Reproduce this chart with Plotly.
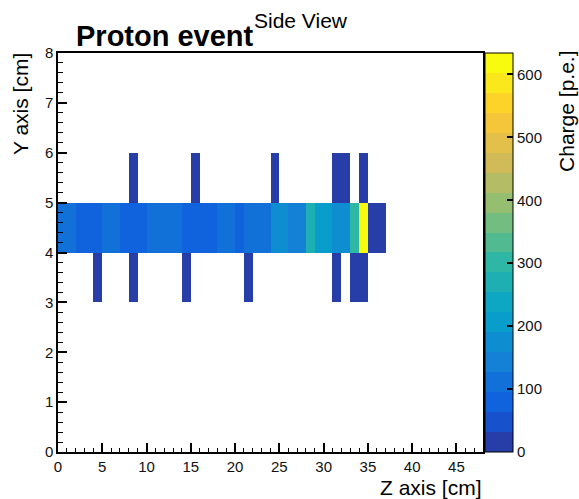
import plotly.graph_objects as go

# ---------------- data ----------------
z_range = [0, 48]          # Z axis [cm]
y_range = [0, 8]           # Y axis [cm]
bin_width = 1.0

band_row = 4               # Y bin index (4-5 cm)
band_bins = list(range(37))
band_charge = [105, 100, 90, 85, 92, 100, 108, 88, 90, 86,
               110, 115, 105, 125, 92, 88, 90, 85, 118, 120,
               90, 112, 118, 110, 165, 160, 140, 135, 265, 200,
               195, 185, 190, 300, 634, 20, 25]

upper_row = 5
upper_bins = [8, 15, 24, 31, 32, 34]
upper_charge = [15, 12, 18, 20, 14, 22]

lower_row = 3
lower_bins = [4, 8, 14, 21, 31, 33, 34]
lower_charge = [16, 13, 15, 19, 20, 17, 24]

charge_max = 634
colorbar_ticks = [0, 100, 200, 300, 400, 500, 600]

# ---------------- grid ----------------
nx = int((z_range[1] - z_range[0]) / bin_width)
ny = int((y_range[1] - y_range[0]) / bin_width)
grid = [[None] * nx for _ in range(ny)]
for b, v in zip(band_bins, band_charge):
    grid[band_row][b] = v
for b, v in zip(upper_bins, upper_charge):
    grid[upper_row][b] = v
for b, v in zip(lower_bins, lower_charge):
    grid[lower_row][b] = v
xc = [z_range[0] + (i + 0.5) * bin_width for i in range(nx)]
yc = [y_range[0] + (j + 0.5) * bin_width for j in range(ny)]

# ---------------- ROOT kBird palette, 20 contours ----------------
stops = [0.0, 0.125, 0.25, 0.375, 0.5, 0.625, 0.75, 0.875, 1.0]
red = [0.2082, 0.0592, 0.0780, 0.0232, 0.1802, 0.5301, 0.8186, 0.9956, 0.9764]
green = [0.1664, 0.3599, 0.5041, 0.6419, 0.7178, 0.7492, 0.7328, 0.7862, 0.9832]
blue = [0.5293, 0.8684, 0.8385, 0.7914, 0.6425, 0.4662, 0.3499, 0.1968, 0.0539]


def bird(p):
    for k in range(len(stops) - 1):
        if stops[k] <= p <= stops[k + 1]:
            t = (p - stops[k]) / (stops[k + 1] - stops[k])
            r = red[k] + t * (red[k + 1] - red[k])
            g = green[k] + t * (green[k + 1] - green[k])
            b = blue[k] + t * (blue[k + 1] - blue[k])
            return "rgb(%d,%d,%d)" % (round(r * 255), round(g * 255), round(b * 255))
    return "rgb(249,251,14)"


ndiv = 20
ncol = 255
cscale = []
for i in range(ndiv):
    idx = int((i + 0.99) * ncol / ndiv)
    col = bird(min(idx / (ncol - 1), 1.0))
    cscale.append([i / ndiv, col])
    cscale.append([(i + 1) / ndiv, col])

# ---------------- figure ----------------
FONT = "Liberation Sans, Arial, Helvetica, sans-serif"
W, H = 579, 499
L, R, T, B = 58, 95.5, 53, 47
pw = W - L - R
ph = H - T - B


def px_x(x):
    return (x - L) / pw


def px_y(y):
    return (H - B - y) / ph


fig = go.Figure(go.Heatmap(
    x=xc, y=yc, z=grid,
    zmin=0, zmax=charge_max,
    colorscale=cscale,
    hoverongaps=False,
    colorbar=dict(
        x=px_x(486), xanchor="left", xpad=0,
        y=0.5, yanchor="middle", len=1, lenmode="fraction", ypad=0,
        thickness=28, thicknessmode="pixels",
        outlinewidth=1, outlinecolor="black",
        ticks="inside", ticklen=6, tickwidth=1.5, tickcolor="black",
        tickvals=colorbar_ticks,
        tickfont=dict(family=FONT, size=15, color="#111"),
    ),
))

fig.update_layout(
    width=W, height=H,
    margin=dict(l=L, r=R, t=T, b=B, autoexpand=False),
    paper_bgcolor="white", plot_bgcolor="white",
    font=dict(family=FONT, color="black"),
    xaxis=dict(
        range=z_range, showgrid=False, zeroline=False,
        showline=True, linecolor="black", linewidth=1.5, mirror=True,
        ticks="inside", ticklen=9, tickwidth=1.5, tickcolor="black",
        dtick=5, tick0=0,
        minor=dict(dtick=1, ticks="inside", ticklen=4, tickwidth=1.2, tickcolor="black"),
        tickfont=dict(family=FONT, size=15, color="#111"),
    ),
    yaxis=dict(
        range=y_range, showgrid=False, zeroline=False,
        showline=True, linecolor="black", linewidth=1.5, mirror=True,
        ticks="inside", ticklen=9, tickwidth=1.5, tickcolor="black",
        dtick=1, tick0=0,
        minor=dict(dtick=0.2, ticks="inside", ticklen=5, tickwidth=1.2, tickcolor="black"),
        tickfont=dict(family=FONT, size=15, color="#111"),
    ),
    annotations=[
        dict(text="<b>Proton event</b>", xref="paper", yref="paper",
             x=px_x(74), y=px_y(36), xanchor="left", yanchor="middle",
             showarrow=False, font=dict(family=FONT, size=29, color="black")),
        dict(text="Side View", xref="paper", yref="paper",
             x=px_x(301), y=px_y(20), xanchor="center", yanchor="middle",
             showarrow=False, font=dict(family=FONT, size=21, color="black")),
        dict(text="Z axis [cm]", xref="paper", yref="paper",
             x=px_x(485), y=px_y(487), xanchor="right", yanchor="middle",
             showarrow=False, font=dict(family=FONT, size=21, color="black")),
        dict(text="Y axis [cm]", xref="paper", yref="paper",
             x=px_x(21), y=px_y(51), xanchor="center", yanchor="top", textangle=-90,
             showarrow=False, font=dict(family=FONT, size=21, color="black")),
        dict(text="Charge [p.e.]", xref="paper", yref="paper",
             x=px_x(567), y=px_y(49), xanchor="center", yanchor="top", textangle=-90,
             showarrow=False, font=dict(family=FONT, size=21, color="black")),
    ],
)

fig.write_html("out.html", config={"displayModeBar": False},
               post_script="document.body.style.margin='0px';")
